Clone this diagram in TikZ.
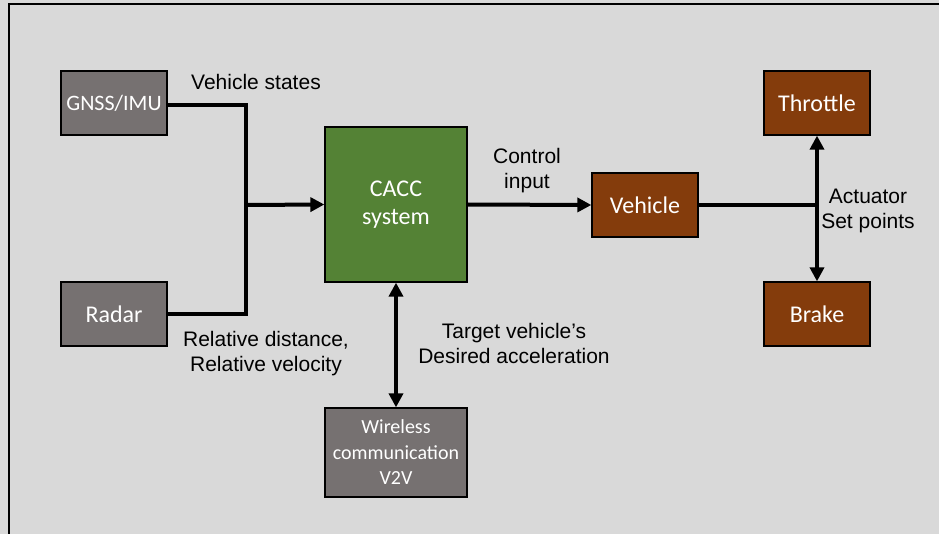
\documentclass[tikz,border=0pt]{standalone}
\usepackage{fontspec}
\setmainfont{Liberation Sans}
\newfontfamily\boxfont{Carlito}
\usepackage{xcolor}
\usetikzlibrary{arrows.meta}

\definecolor{bgray}{HTML}{D9D9D9}
\definecolor{sensorgray}{HTML}{767171}
\definecolor{caccgreen}{HTML}{548235}
\definecolor{actbrown}{HTML}{843C0C}

\tikzset{
  block/.style={rectangle, draw=black, line width=1.3pt, text=white, align=center,
    inner sep=0pt, minimum width=106pt, minimum height=64pt,
    font=\boxfont\fontsize{24}{28}\selectfont},
  sensor/.style={block, fill=sensorgray},
  plant/.style={block, fill=actbrown},
  lbl/.style={align=center, font=\fontsize{21}{25}\selectfont},
  wire/.style={line width=4pt},
  arr/.style={wire, -{Triangle[length=14pt,width=14pt]}},
  dblarr/.style={wire, {Triangle[length=14pt,width=14pt]}-{Triangle[length=14pt,width=14pt]}}
}

\begin{document}
\begin{tikzpicture}[x=1pt,y=-1pt]

\useasboundingbox (0,0) rectangle (939,534);

% Background panel
\fill[bgray] (0,0) rectangle (939,534);
\draw[line width=2pt] (9,4) rectangle (950,545);

% Blocks
\node[sensor, font=\boxfont\fontsize{22}{28}\selectfont] (gnss) at (114,103) {GNSS/IMU};
\node[sensor] (radar) at (114,314) {Radar};
\node[block, fill=caccgreen, minimum width=142pt, minimum height=155pt] (cacc) at (396,204.5) {CACC\\system};
\node[sensor, minimum width=142pt, minimum height=89pt,
      font=\boxfont\fontsize{20}{25.5}\selectfont] (wireless) at (396,452.5) {Wireless\\communication\\V2V};
\node[plant] (vehicle) at (645,205) {Vehicle};
\node[plant] (throttle) at (817,103) {Throttle};
\node[plant] (brake) at (817,314) {Brake};

% Connectors
\coordinate (merge) at (246,205);
\coordinate (split) at (817,205);
\draw[wire] ([yshift=-2pt]gnss.east) -| (merge) |- (radar.east);
\draw[arr] (merge) -- (cacc.west);
\draw[arr] (cacc.east) -- (vehicle.west);
\draw[wire] (vehicle.east) -- (split);
\draw[arr] (split) -- (throttle.south);
\draw[arr] (split) -- (brake.north);
\draw[dblarr] (cacc.south) -- (wireless.north);

% Labels
\node[lbl] (statesl) at (256,82) {Vehicle states};
\node[lbl] (controll) at (527,170.5) {Control\\input};
\node[lbl] (actl) at (868,211) {Actuator\\Set points};
\node[lbl] (radarl) at (266,354) {Relative distance,\\Relative velocity};
\node[lbl] (v2vl) at (514,343.5) {Target vehicle’s\\Desired acceleration};

\end{tikzpicture}
\end{document}
